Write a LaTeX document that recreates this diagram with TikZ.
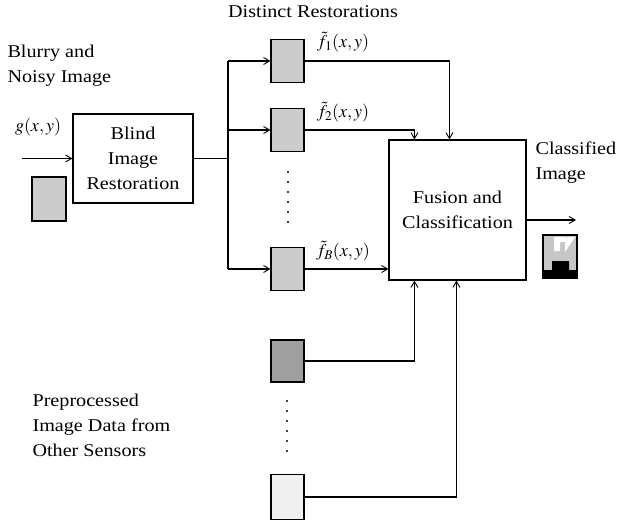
\documentclass[tikz,border=0pt]{standalone}
\usepackage{mathptmx}
\usepackage{fontspec}
\setmainfont[FakeStretch=1.12]{Liberation Serif}
\usetikzlibrary{arrows.meta}
\begin{document}
\begin{tikzpicture}[x=1pt,y=-1pt,
  font=\fontsize{18}{25}\selectfont,
  line width=1.1pt,
  arr/.style={-{Straight Barb[length=6pt,width=7pt,line width=0.9pt]}},
  blk/.style={draw, line width=1.1pt, inner sep=0pt},
  sq/.style={draw, line width=1.2pt, minimum width=33pt, minimum height=43pt, inner sep=0pt},
  lbl/.style={inner sep=0pt},
  dotp/.style={fill=black, circle, inner sep=0pt, minimum size=2.2pt}]
\useasboundingbox (0,0) rectangle (617,524);

% text labels
\node[lbl, anchor=north west, align=left] (blurry) at (7,44) {Blurry and\\Noisy Image};
\node[lbl] (distinct) at (313,12) {Distinct Restorations};
\node[lbl, anchor=west, align=left] (classlbl) at (535,163) {Classified\\Image};
\node[lbl, anchor=west, align=left] (prelbl) at (32,425) {Preprocessed\\Image Data from\\Other Sensors};
\node[lbl] (glbl) at (38,127) {$g(x,y)$};

% boxes
\node[blk, minimum width=120pt, minimum height=89pt, align=center] (blind) at (133,158.5) {Blind\\Image\\Restoration};
\node[blk, minimum width=137pt, minimum height=140pt, align=center] (fusion) at (457.5,210) {Fusion and\\Classification};

% input image
\node[sq, fill=gray!40, minimum width=34pt, minimum height=44pt] (insq) at (49,199) {};
\coordinate (in) at (22,158.5);
\draw[arr] (in) -- (blind.west);

% restored squares
\node[sq, fill=gray!40] (sq1) at (287.5,61) {};
\node[sq, fill=gray!40] (sq2) at (287.5,130) {};
\node[sq, fill=gray!40] (sqB) at (287.5,269) {};
\node[sq, fill=gray!75, minimum height=42pt] (sqD) at (287.5,361) {};
\node[sq, fill=gray!12, minimum height=45pt] (sqL) at (287.5,497) {};

\node[lbl] (f1) at (343,42) {$\tilde{f}_1(x,y)$};
\node[lbl] (f2) at (343,112) {$\tilde{f}_2(x,y)$};
\node[lbl] (fB) at (343,251) {$\tilde{f}_B(x,y)$};

% bus
\coordinate (bus) at (228,158.5);
\draw (blind.east) -- (bus);
\draw (bus |- sq1) -- (bus |- sqB);
\draw[arr] (bus |- sq1) -- (sq1.west);
\draw[arr] (bus |- sq2) -- (sq2.west);
\draw[arr] (bus |- sqB) -- (sqB.west);

% dots
\foreach \i in {0,...,5} {
  \node[dotp] (da\i) at (288,172+10*\i) {};
  \node[dotp] (db\i) at (287,401+10*\i) {};
}

% into fusion
\draw[arr] (sq1.east) -| ([xshift=61pt]fusion.north west);
\draw[arr] (sq2.east) -| ([xshift=26pt]fusion.north west);
\draw[arr] (sqB.east) -- (fusion.west |- sqB.east);
\draw[arr] (sqD.east) -| ([xshift=26pt]fusion.south west);
\draw[arr] (sqL.east) -| ([xshift=68pt]fusion.south west);

% output
\coordinate (fout) at ([yshift=-10pt]fusion.east);
\coordinate (out) at (576,220);
\draw[arr] (fout) -- (out);

% classified icon
\begin{scope}
  \fill[gray!45] (543,235) rectangle (577,278);
  \fill[white] (554,237) -- (566,237) -- (566,242) -- (560,242) -- (560,251) -- (554,251) -- cycle;
  \fill[white] (567,237) -- (575,237) -- (565,252) -- (565,244) -- cycle;
  \fill[black] (543,278) -- (543,270) -- (552,270) -- (552,261) -- (569,261) -- (569,270) -- (577,270) -- (577,278) -- cycle;
  \draw[line width=1.2pt] (543,235) rectangle (577,278);
\end{scope}
\end{tikzpicture}
\end{document}
